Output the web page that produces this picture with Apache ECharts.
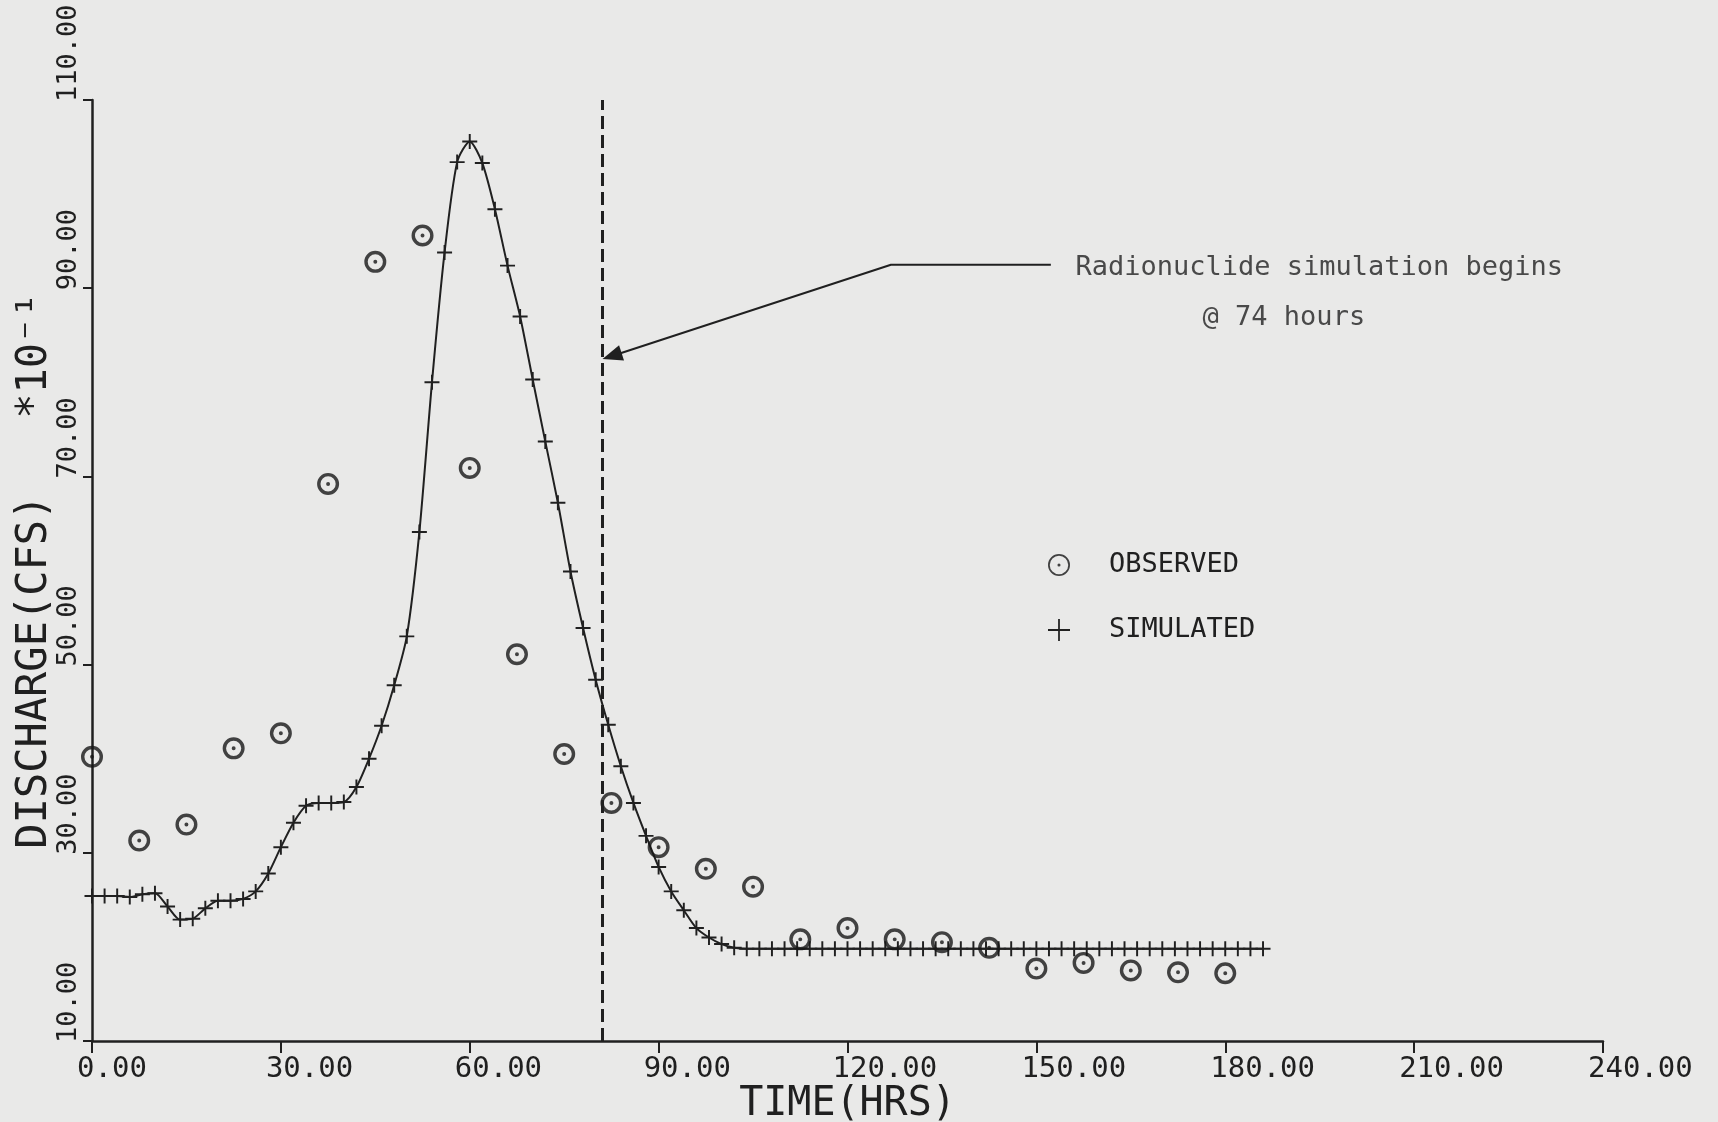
<!DOCTYPE html>
<html>
<head>
<meta charset="utf-8">
<script src="https://cdn.jsdelivr.net/npm/echarts@6/dist/echarts.min.js"></script>
<style>
html, body { margin: 0; padding: 0; background: #e9e9e8; }
#chart { width: 1718px; height: 1122px; }
</style>
</head>
<body>
<div id="chart"></div>
<script>
// ---- data ----
const observedHours = [0, 7.5, 15, 22.5, 30, 37.5, 45, 52.5, 60, 67.5, 75, 82.5, 90, 97.5, 105, 112.5, 120, 127.5, 135, 142.5, 150, 157.5, 165, 172.5, 180];
const observedValues = [40.2, 31.3, 33.0, 41.1, 42.7, 69.2, 92.8, 95.6, 70.9, 51.1, 40.5, 35.3, 30.6, 28.3, 26.4, 20.8, 22.0, 20.8, 20.5, 19.9, 17.7, 18.3, 17.5, 17.3, 17.2];

const simulatedHours = [
  0, 2, 4, 6, 8, 10, 12, 14, 16, 18, 20, 22, 24, 26, 28, 30, 32, 34, 36, 38,
  40, 42, 44, 46, 48, 50, 52, 54, 56, 58, 60, 62, 64, 66, 68, 70, 72, 74, 76, 78,
  80, 82, 84, 86, 88, 90, 92, 94, 96, 98, 100, 102, 104, 106, 108, 110, 112, 114, 116, 118,
  120, 122, 124, 126, 128, 130, 132, 134, 136, 138, 140, 142, 144, 146, 148, 150, 152, 154, 156, 158,
  160, 162, 164, 166, 168, 170, 172, 174, 176, 178, 180, 182, 184, 186
];
const simulatedValues = [
  25.4, 25.4, 25.4, 25.3, 25.6, 25.7, 24.3, 22.9, 23.0, 24.1, 24.9, 24.9, 25.1, 25.9, 27.8, 30.6, 33.2, 35.0, 35.3, 35.3,
  35.4, 37.0, 40.0, 43.5, 47.8, 53.0, 64.1, 80.0, 93.8, 103.4, 105.6, 103.3, 98.4, 92.4, 87.0, 80.3, 73.7, 67.2, 59.9, 53.9,
  48.4, 43.6, 39.2, 35.3, 31.8, 28.5, 25.9, 23.9, 22.0, 21.0, 20.3, 19.9, 19.8, 19.8, 19.8, 19.8, 19.8, 19.8, 19.8, 19.8,
  19.8, 19.8, 19.8, 19.8, 19.8, 19.8, 19.8, 19.8, 19.8, 19.8, 19.8, 19.8, 19.8, 19.8, 19.8, 19.8, 19.8, 19.8, 19.8, 19.8,
  19.8, 19.8, 19.8, 19.8, 19.8, 19.8, 19.8, 19.8, 19.8, 19.8, 19.8, 19.8, 19.8, 19.8
];

const seriesNames = ['OBSERVED', 'SIMULATED'];
const simulationStartHour = 81;          // dashed vertical line
const annotationLines = ['Radionuclide simulation begins', '@ 74 hours'];
const leaderHours = [82.6, 126.9, 152.3];
const leaderValues = [82.8, 92.5, 92.5];
const annotationHours = [156.2, 176.4];
const annotationValues = [92.1, 86.8];

const xAxisName = 'TIME(HRS)';
const yAxisName = 'DISCHARGE(CFS)   *10\u207B\u00B9';

// ---- styles ----
const INK = '#202020';
const MONO = '"DejaVu Sans Mono", "Liberation Mono", monospace';
const ringPath = 'path://M-10,0 A10,10 0 1,0 10,0 A10,10 0 1,0 -10,0 Z M-6.9,0 A6.9,6.9 0 1,1 6.9,0 A6.9,6.9 0 1,1 -6.9,0 Z M-1.8,0 A1.8,1.8 0 1,0 1.8,0 A1.8,1.8 0 1,0 -1.8,0 Z';
const ringThinPath = 'path://M-10,0 A10,10 0 1,0 10,0 A10,10 0 1,0 -10,0 Z M-8.4,0 A8.4,8.4 0 1,1 8.4,0 A8.4,8.4 0 1,1 -8.4,0 Z M-1.4,0 A1.4,1.4 0 1,0 1.4,0 A1.4,1.4 0 1,0 -1.4,0 Z';
const plusPath = 'path://M-1.3,-10 L1.3,-10 L1.3,-1.3 L10,-1.3 L10,1.3 L1.3,1.3 L1.3,10 L-1.3,10 L-1.3,1.3 L-10,1.3 L-10,-1.3 L-1.3,-1.3 Z';
const plusThinPath = 'path://M-0.8,-10 L0.8,-10 L0.8,-0.8 L10,-0.8 L10,0.8 L0.8,0.8 L0.8,10 L-0.8,10 L-0.8,0.8 L-10,0.8 L-10,-0.8 L-0.8,-0.8 Z';

const observedData = observedHours.map((h, i) => [h, observedValues[i]]);
const simulatedData = simulatedHours.map((h, i) => [h, simulatedValues[i]]);
const leaderData = leaderHours.map((h, i) => {
  const item = { value: [h, leaderValues[i]] };
  if (i === 0) {
    item.symbol = 'triangle';
    item.symbolSize = [16, 20];
    item.symbolRotate = 108;
  }
  return item;
});
const annotationData = annotationHours.map((h, i) => ({ value: [h, annotationValues[i]], name: annotationLines[i] }));

const chart = echarts.init(document.getElementById('chart'), null, { renderer: 'canvas' });
chart.setOption({
  backgroundColor: '#e9e9e8',
  animation: false,
  grid: { left: 92, right: 115, top: 100, bottom: 81, containLabel: false, outerBoundsMode: 'none' },
  legend: {
    data: [
      { name: seriesNames[0], icon: ringThinPath },
      { name: seriesNames[1], icon: plusThinPath }
    ],
    orient: 'vertical',
    left: 1043,
    top: 545,
    itemWidth: 22,
    itemHeight: 22,
    itemGap: 35,
    selectedMode: false,
    textStyle: { fontFamily: MONO, fontSize: 27, color: INK, lineHeight: 30, padding: [0, 0, 0, 34] }
  },
  xAxis: {
    type: 'value',
    min: 0, max: 240, interval: 30,
    name: xAxisName,
    nameLocation: 'middle',
    nameGap: 44,
    nameMoveOverlap: false,
    nameTextStyle: { fontFamily: MONO, fontSize: 40, color: INK },
    axisLine: { show: true, onZero: false, lineStyle: { color: INK, width: 2.5 } },
    axisTick: { show: true, inside: false, length: 12, lineStyle: { color: INK, width: 2 } },
    splitLine: { show: false },
    axisLabel: {
      formatter: v => v.toFixed(2),
      fontFamily: MONO, fontSize: 29, color: INK,
      align: 'left', margin: 14, padding: [0, 0, 0, -15]
    }
  },
  yAxis: {
    type: 'value',
    min: 10, max: 110, interval: 20,
    name: yAxisName,
    nameLocation: 'middle',
    nameRotate: 90,
    nameGap: 36,
    nameMoveOverlap: false,
    nameTextStyle: { fontFamily: MONO, fontSize: 42, color: INK },
    axisLine: { show: true, onZero: false, lineStyle: { color: INK, width: 2.5 } },
    axisTick: { show: true, inside: false, length: 9, lineStyle: { color: INK, width: 2 } },
    splitLine: { show: false },
    axisLabel: {
      formatter: v => v.toFixed(2),
      rotate: 90,
      fontFamily: MONO, fontSize: 27, color: INK,
      align: 'left', verticalAlign: 'middle', margin: 23, padding: [0, 0, 0, -2]
    }
  },
  series: [
    {
      name: seriesNames[1],
      type: 'line',
      data: simulatedData,
      smooth: 0.25,
      symbol: plusPath,
      symbolSize: 15,
      showSymbol: true,
      lineStyle: { color: INK, width: 2 },
      itemStyle: { color: INK },
      z: 3
    },
    {
      name: seriesNames[0],
      type: 'scatter',
      data: observedData,
      symbol: ringPath,
      symbolSize: 22,
      itemStyle: { color: '#161616' },
      z: 4,
      markLine: {
        silent: true,
        symbol: 'none',
        label: { show: false },
        lineStyle: { type: [13, 6], width: 3, color: INK },
        data: [{ xAxis: simulationStartHour }]
      }
    },
    {
      name: 'leader',
      type: 'line',
      data: leaderData,
      symbol: 'none',
      showSymbol: true,
      lineStyle: { color: INK, width: 2 },
      itemStyle: { color: INK },
      silent: true,
      z: 5
    },
    {
      name: 'annotation',
      type: 'scatter',
      data: annotationData,
      symbolSize: 0,
      silent: true,
      label: {
        show: true,
        position: 'right',
        distance: 0,
        formatter: p => p.name,
        fontFamily: MONO, fontSize: 27, color: INK
      },
      z: 5
    }
  ]
});
</script>
</body>
</html>
